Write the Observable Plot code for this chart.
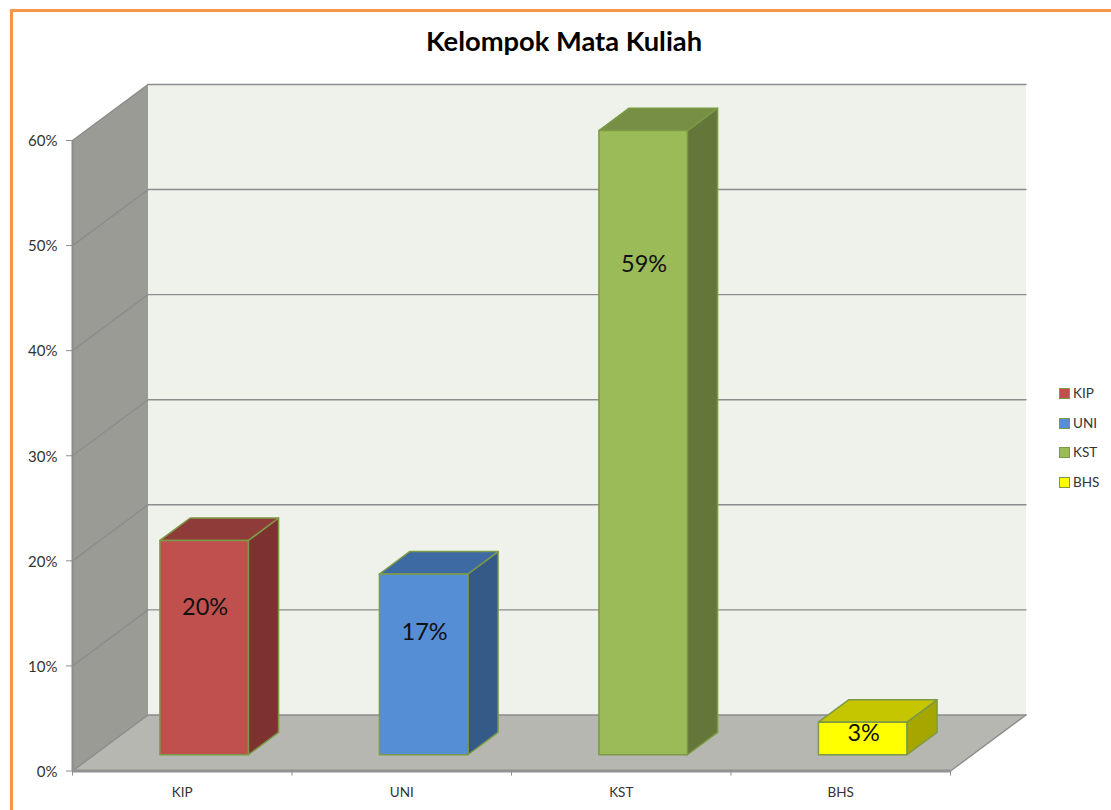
<!DOCTYPE html>
<html>
<head>
<meta charset="utf-8">
<script src="https://cdn.jsdelivr.net/npm/d3@7"></script>
<script src="https://cdn.jsdelivr.net/npm/@observablehq/plot@0.6"></script>
<style>
  html, body { margin: 0; padding: 0; background: #fff; overflow: hidden; width: 1111px; height: 810px; }
  #frame { position: absolute; left: 10px; top: 9px; width: 1200px; height: 900px; border: 3px solid #F79646; box-sizing: border-box; pointer-events: none; }
  #title { position: absolute; left: 0; top: 22px; width: 1128px; text-align: center; font: bold 27.3px Lato, sans-serif; color: #000; line-height: 38px; }
  #chart { position: absolute; left: 0; top: 60px; }
  #legend { position: absolute; left: 1059px; top: 384px; font: 13.5px Lato, sans-serif; color: #333; }
  #legend div { height: 29.5px; line-height: 18px; display: flex; align-items: flex-start; }
  #legend i { display: inline-block; box-sizing: border-box; width: 11px; height: 11px; border: 1.5px solid #7C9A45; margin: 4px 3px 0 0; }
</style>
</head>
<body>
<div id="chart"></div>
<div id="frame"></div>
<div id="title">Kelompok Mata Kuliah</div>
<div id="legend"></div>
<script>
const categories = ["KIP", "UNI", "KST", "BHS"];
const values = [20.4, 17.2, 59.4, 3.1];
const labels = ["20%", "17%", "59%", "3%"];
const labelLevels = [15.6, 13.2, 48.25, 3.6];
const yTicks = [0, 10, 20, 30, 40, 50, 60];
const frontColors = ["#C0504D", "#558ED5", "#9BBB59", "#FFFF00"];
const topColors = ["#8F3B39", "#3E6AA3", "#778F45", "#C6C600"];
const sideColors = ["#7D3230", "#345A88", "#64773A", "#A6A600"];

// Oblique projection used for the fake 3D box, in scale units.
const depthX = 0.344, depthY = 5.33;
const barNear = 0.29, barFar = 0.69, barHalf = 0.2015;
const xDomain = [0, categories.length];
const yDomain = [0, 60];
const P = (x, y, z) => ({x: x + z * depthX, y: y + z * depthY});

const poly = (id, fill, pts) => pts.concat(pts[0]).map(p => ({...p, id, fill}));

const [x0, x1] = xDomain, [y0, y1] = yDomain;
const walls = [
  poly("side", "#999B94", [P(x0, y0, 0), P(x0, y0, 1), P(x0, y1, 1), P(x0, y1, 0)]),
  poly("back", "#EFF2EB", [P(x0, y0, 1), P(x1, y0, 1), P(x1, y1, 1), P(x0, y1, 1)]),
  poly("floor", "#B5B7B0", [P(x0, y0, 0), P(x1, y0, 0), P(x1, y0, 1), P(x0, y0, 1)])
].flat();

const grid = yTicks.flatMap(t => [P(x0, t, 0), P(x0, t, 1), P(x1, t, 1)].map(p => ({...p, id: t})))
  .concat([P(x1, y0, 0), P(x1, y0, 1)].map(p => ({...p, id: "edge"})));

const bars = categories.flatMap((c, i) => {
  const a = i + 0.5 - barHalf, b = i + 0.5 + barHalf, v = values[i];
  return [
    poly(c + "side", sideColors[i], [P(b, 0, barNear), P(b, 0, barFar), P(b, v, barFar), P(b, v, barNear)]),
    poly(c + "top", topColors[i], [P(a, v, barNear), P(b, v, barNear), P(b, v, barFar), P(a, v, barFar)]),
    poly(c + "front", frontColors[i], [P(a, 0, barNear), P(b, 0, barNear), P(b, v, barNear), P(a, v, barNear)])
  ].flat();
});

const labelRows = categories.map((c, i) => ({x: i + 0.5 + barNear * depthX, y: labelLevels[i], t: labels[i]}));

const chart = Plot.plot({
  width: 1111, height: 750,
  marginLeft: 72, marginRight: 161, marginTop: 80, marginBottom: 39.5,
  style: {fontFamily: "Lato, sans-serif", background: "transparent", overflow: "visible"},
  x: {domain: xDomain},
  y: {domain: yDomain},
  color: {type: "identity"},
  marks: [
    Plot.line(walls, {x: "x", y: "y", z: "id", fill: "fill", stroke: "none"}),
    Plot.line(grid, {x: "x", y: "y", z: "id", stroke: "#8C8C8C", strokeWidth: 1.4}),
    Plot.ruleX([x0], {stroke: "#8C8C8C", strokeWidth: 2}),
    Plot.ruleY([y0], {stroke: "#929292", strokeWidth: 3}),
    Plot.axisY({ticks: yTicks, tickFormat: () => "", tickSize: 6, label: null, stroke: "#8C8C8C"}),
    Plot.axisY({ticks: yTicks, tickFormat: d => d + "%", tickSize: 0, tickPadding: 15, dy: 1, label: null, fontSize: 15, fill: "#333"}),
    Plot.axisX({ticks: d3.range(x0, x1 + 1), tickFormat: () => "", tickSize: 5, label: null, stroke: "#8C8C8C"}),
    Plot.axisX({ticks: categories.map((c, i) => i + 0.5), tickFormat: d => categories[d - 0.5], tickSize: 0, tickPadding: 16, label: null, fontSize: 13.5, fill: "#333"}),
    Plot.line(bars, {x: "x", y: "y", z: "id", fill: "fill", stroke: "#7C9A45", strokeWidth: 1.5}),
    Plot.text(labelRows, {x: "x", y: "y", text: "t", fontSize: 23.5, dx: 1, fill: "#111"})
  ]
});
document.getElementById("chart").append(chart);

const legend = d3.select("#legend");
categories.forEach((c, i) => {
  const row = legend.append("div");
  row.append("i").style("background", frontColors[i]);
  row.append("span").text(c);
});
</script>
</body>
</html>
